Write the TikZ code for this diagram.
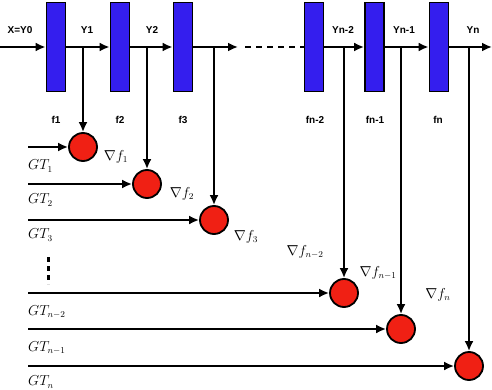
\documentclass[tikz,border=0pt]{standalone}
\usepackage{amsmath,amssymb}
\usepackage{fontspec}
\newfontfamily\labelfont{Liberation Sans}
\usepackage{tikz}
\usetikzlibrary{arrows.meta,positioning}
\definecolor{stageblue}{RGB}{52,30,238}
\definecolor{gradred}{RGB}{240,32,20}

\begin{document}
\begin{tikzpicture}[x=1pt,y=-1pt,
  stage/.style={draw,line width=1.8pt,fill=stageblue,minimum width=19pt,minimum height=89pt,inner sep=0pt},
  grad/.style={draw,circle,line width=1.8pt,fill=gradred,minimum size=28pt,inner sep=0pt},
  arr/.style={-{Latex[length=10pt,width=9pt]},line width=2.4pt},
  lbl/.style={font=\labelfont\bfseries\fontsize{10}{11}\selectfont,inner sep=0pt},
  mlbl/.style={font=\fontsize{13.5}{15}\selectfont,inner sep=0pt}
]
\useasboundingbox (0,0) rectangle (492,390);
% stages
\node[stage] (f1) at (56,47) {};
\node[stage] (f2) at (120,47) {};
\node[stage] (f3) at (183,47) {};
\node[stage] (fn2) at (314,47) {};
\node[stage] (fn1) at (374.5,47) {};
\node[stage] (fn) at (439,47) {};
\node[lbl] (lf1) at (56,120) {f1};
\node[lbl] (lf2) at (120,120) {f2};
\node[lbl] (lf3) at (183,120) {f3};
\node[lbl] (lfn2) at (315,120) {fn-2};
\node[lbl] (lfn1) at (375,120) {fn-1};
\node[lbl] (lfn) at (438,120) {fn};
\node[lbl] (ly0) at (20,30) {X=Y0};
\node[lbl] (ly1) at (87,30) {Y1};
\node[lbl] (ly2) at (152,30) {Y2};
\node[lbl] (lyn2) at (343,30) {Yn-2};
\node[lbl] (lyn1) at (404,30) {Yn-1};
\node[lbl] (lyn) at (473,30) {Yn};
% main line
\coordinate (x0) at (0,47);
\coordinate (x3) at (238,47);
\coordinate (xd) at (245,47);
\coordinate (xn) at (492,47);
\draw[arr] (x0) -- (f1.west);
\draw[arr] (f1.east) -- (f2.west);
\draw[arr] (f2.east) -- (f3.west);
\draw[arr] (f3.east) -- (x3);
\draw[line width=2.4pt,dash pattern=on 6pt off 5pt] (xd) -- (fn2.west);
\draw[arr] (fn2.east) -- (fn1.west);
\draw[arr] (fn1.east) -- (fn.west);
\draw[arr] (fn.east) -- (xn);
% gradient nodes
\node[grad] (g1) at (83,147) {};
\node[grad] (g2) at (147,184) {};
\node[grad] (g3) at (214,220) {};
\node[grad] (gn2) at (344,293) {};
\node[grad] (gn1) at (401,329) {};
\node[grad] (gn) at (469,366) {};
\node[mlbl] (n1) at (116,157) {$\nabla f_1$};
\node[mlbl] (n2) at (182,194) {$\nabla f_2$};
\node[mlbl] (n3) at (246,237) {$\nabla f_3$};
\node[mlbl] (nn2) at (305,252) {$\nabla f_{n-2}$};
\node[mlbl] (nn1) at (378,273) {$\nabla f_{n-1}$};
\node[mlbl] (nn) at (438,295) {$\nabla f_n$};
% drops
\coordinate (y1) at (83,47);
\coordinate (y2) at (147,47);
\coordinate (y3) at (214,47);
\coordinate (yn2) at (344,47);
\coordinate (yn1) at (401,47);
\coordinate (yn) at (469,47);
\draw[arr] (y1) -- (g1.north);
\draw[arr] (y2) -- (g2.north);
\draw[arr] (y3) -- (g3.north);
\draw[arr] (yn2) -- (gn2.north);
\draw[arr] (yn1) -- (gn1.north);
\draw[arr] (yn) -- (gn.north);
% ground truths
\coordinate (t1) at (28,147);
\coordinate (t2) at (28,184);
\coordinate (t3) at (28,220);
\coordinate (tn2) at (28,293);
\coordinate (tn1) at (28,329);
\coordinate (tn) at (28,366);
\draw[arr] (t1) -- (g1.west);
\draw[arr] (t2) -- (g2.west);
\draw[arr] (t3) -- (g3.west);
\draw[arr] (tn2) -- (gn2.west);
\draw[arr] (tn1) -- (gn1.west);
\draw[arr] (tn) -- (gn.west);
\node[mlbl,anchor=west] (gt1) at (28,166) {$GT_1$};
\node[mlbl,anchor=west] (gt2) at (28,200) {$GT_2$};
\node[mlbl,anchor=west] (gt3) at (28,235) {$GT_3$};
\node[mlbl,anchor=west] (gtn2) at (28,312) {$GT_{n-2}$};
\node[mlbl,anchor=west] (gtn1) at (28,348) {$GT_{n-1}$};
\node[mlbl,anchor=west] (gtn) at (28,382) {$GT_n$};
\coordinate (v1) at (48,257);
\coordinate (v2) at (48,284);
\draw[line width=3pt,dash pattern=on 5pt off 4pt] (v1) -- (v2);
\end{tikzpicture}
\end{document}
